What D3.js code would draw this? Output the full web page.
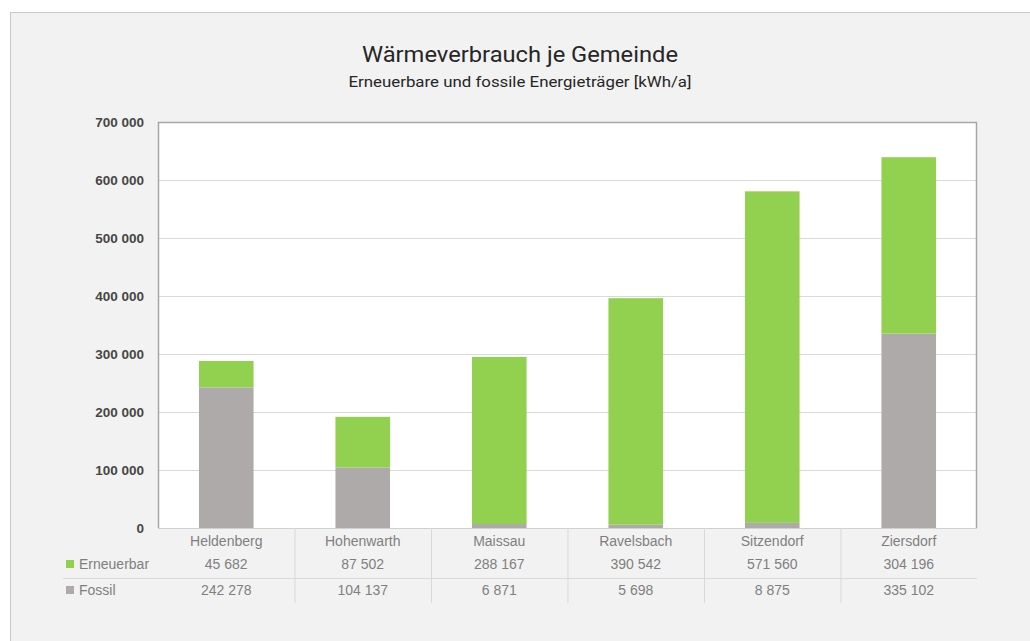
<!DOCTYPE html>
<html>
<head>
<meta charset="utf-8">
<script src="https://cdn.jsdelivr.net/npm/d3@7"></script>
<style>
  body { margin: 0; background: #fff; }
  svg { display: block; font-family: "Roboto", "Liberation Sans", Arial, sans-serif; }
</style>
</head>
<body>
<div id="chart"></div>
<script>
"use strict";

// data
let gemeinden = ["Heldenberg", "Hohenwarth", "Maissau", "Ravelsbach", "Sitzendorf", "Ziersdorf"];
let erneuerbar = [45682, 87502, 288167, 390542, 571560, 304196];
let fossil = [242278, 104137, 6871, 5698, 8875, 335102];
let yTicks = [0, 100000, 200000, 300000, 400000, 500000, 600000, 700000];
let serien = ["Fossil", "Erneuerbar"];

var width = 1030,
    height = 641,
    pLeft = 158,
    pRight = 977,
    pTop = 122,
    pBottom = 528;

var colors = { Erneuerbar: "#92d050", Fossil: "#aeaaaa" };

var fmt = function (v) {
  return d3.format(",")(v).replace(/,/g, " ");
};

var rows = gemeinden.map(function (g, i) {
  return { name: g, Erneuerbar: erneuerbar[i], Fossil: fossil[i] };
});

var stack = d3.stack().keys(serien)(rows);

var x = d3.scaleBand().domain(gemeinden).range([pLeft, pRight]).paddingInner(0.6).paddingOuter(0.3);
var xBand = d3.scaleBand().domain(gemeinden).range([pLeft, pRight]);
var y = d3.scaleLinear().domain([0, 700000]).range([pBottom, pTop]);

var svg = d3.select("#chart").append("svg")
  .attr("width", width)
  .attr("height", height);

// outer frame
svg.append("rect")
  .attr("x", 10.5).attr("y", 12.5)
  .attr("width", width).attr("height", height)
  .attr("fill", "#f2f2f2")
  .attr("stroke", "#c8c8c8");

// title
svg.append("text")
  .attr("x", 520).attr("y", 62)
  .attr("text-anchor", "middle")
  .attr("textLength", 316)
  .attr("lengthAdjust", "spacingAndGlyphs")
  .style("font-size", "22px")
  .style("fill", "#262626")
  .text("Wärmeverbrauch je Gemeinde");

svg.append("text")
  .attr("x", 520).attr("y", 87)
  .attr("text-anchor", "middle")
  .attr("textLength", 343)
  .attr("lengthAdjust", "spacingAndGlyphs")
  .style("font-size", "15px")
  .style("fill", "#262626")
  .text("Erneuerbare und fossile Energieträger [kWh/a]");

// plot area
svg.append("rect")
  .attr("x", pLeft).attr("y", pTop)
  .attr("width", pRight - pLeft).attr("height", pBottom - pTop)
  .attr("fill", "#fff");

// gridlines
svg.append("g")
  .selectAll("line").data(yTicks.slice(1, -1))
  .enter().append("line")
    .attr("x1", pLeft).attr("x2", pRight)
    .attr("y1", function (d) { return y(d) + 0.5; })
    .attr("y2", function (d) { return y(d) + 0.5; })
    .attr("stroke", "#d9d9d9");

// y axis labels
var yAxis = d3.axisLeft(y).tickValues(yTicks).tickFormat(fmt).tickSize(0).tickPadding(14);
var ya = svg.append("g").attr("transform", "translate(" + pLeft + ",0)").call(yAxis);
ya.select(".domain").remove();
ya.selectAll("text")
  .style("font-family", "'Liberation Sans', Arial, sans-serif")
  .style("font-size", "13.5px")
  .style("font-weight", "bold")
  .style("fill", "#464646")
  .attr("dy", "0.3em");

// bars
svg.append("g")
  .selectAll("g").data(stack)
  .enter().append("g")
    .attr("fill", function (d) { return colors[d.key]; })
  .selectAll("rect").data(function (d) { return d; })
  .enter().append("rect")
    .attr("x", function (d) { return x(d.data.name); })
    .attr("width", x.bandwidth())
    .attr("y", function (d) { return y(d[1]); })
    .attr("height", function (d) { return y(d[0]) - y(d[1]); });

// plot border
svg.append("path")
  .attr("d", "M" + (pLeft + 0.5) + "," + pBottom + "V" + (pTop + 0.5) + "H" + (pRight - 0.5) + "V" + pBottom)
  .attr("fill", "none")
  .attr("stroke", "#a6a6a6")
  .attr("stroke-width", 1.5);

svg.append("line")
  .attr("x1", pLeft).attr("x2", pRight)
  .attr("y1", pBottom + 0.5).attr("y2", pBottom + 0.5)
  .attr("stroke", "#d0d0d0");

// data table below
var table = svg.append("g").attr("class", "table");
var rowY = { Erneuerbar: 569, Fossil: 595 };

table.selectAll("line.sep").data(gemeinden.slice(1))
  .enter().append("line")
    .attr("class", "sep")
    .attr("x1", function (d) { return xBand(d) + 0.5; })
    .attr("x2", function (d) { return xBand(d) + 0.5; })
    .attr("y1", pBottom).attr("y2", 603)
    .attr("stroke", "#d9d9d9");

table.append("line")
  .attr("x1", 63).attr("x2", pRight)
  .attr("y1", 578.5).attr("y2", 578.5)
  .attr("stroke", "#d9d9d9");

var tStyle = function (sel) {
  sel.style("font-family", "'Liberation Sans', Arial, sans-serif")
    .style("font-size", "14px")
    .style("fill", "#7f7f7f");
};

table.selectAll("text.cat").data(gemeinden)
  .enter().append("text")
    .attr("class", "cat")
    .attr("x", function (d) { return xBand(d) + xBand.bandwidth() / 2; })
    .attr("y", 546)
    .attr("text-anchor", "middle")
    .call(tStyle)
    .text(function (d) { return d; });

["Erneuerbar", "Fossil"].forEach(function (key) {
  var vals = key === "Erneuerbar" ? erneuerbar : fossil;
  table.append("rect")
    .attr("x", 66).attr("y", rowY[key] - 9)
    .attr("width", 8).attr("height", 8)
    .attr("fill", colors[key]);
  table.append("text")
    .attr("x", 79).attr("y", rowY[key])
    .call(tStyle)
    .text(key);
  table.selectAll("text.v" + key).data(vals)
    .enter().append("text")
      .attr("class", "v" + key)
      .attr("x", function (d, i) { return xBand(gemeinden[i]) + xBand.bandwidth() / 2; })
      .attr("y", rowY[key])
      .attr("text-anchor", "middle")
      .call(tStyle)
      .text(fmt);
});
</script>
</body>
</html>
